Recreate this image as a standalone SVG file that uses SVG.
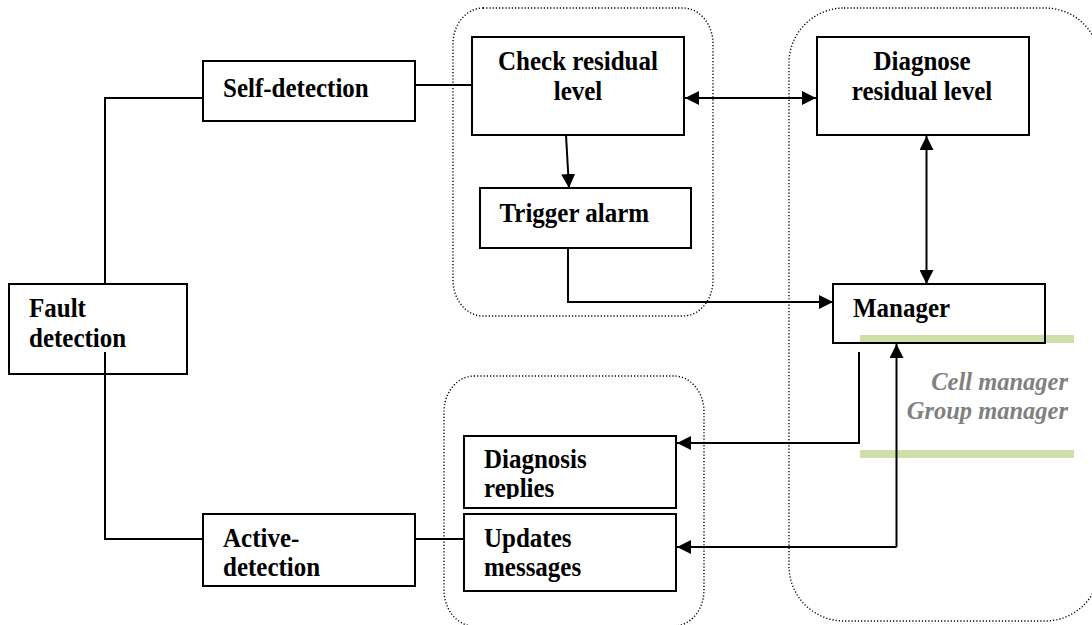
<svg xmlns="http://www.w3.org/2000/svg" width="1092" height="625" viewBox="0 0 1092 625">
<style>
.box{fill:#fff;stroke:#000;stroke-width:2}
.grp{fill:none;stroke:#000;stroke-width:1.4;stroke-dasharray:1.2 2}
.ln{fill:none;stroke:#000;stroke-width:2}
.t{font-family:"Liberation Serif","Times New Roman",serif;font-weight:bold;font-size:25px;fill:#000}
.c{text-anchor:middle}
.g{font-family:"Liberation Serif","Times New Roman",serif;font-weight:bold;font-style:italic;font-size:24.5px;fill:#808080;text-anchor:end}
.bar{fill:#cfdfa9}
</style>
<defs>
<marker id="ah" viewBox="0 0 14 14" refX="14" refY="7" markerWidth="14" markerHeight="14" markerUnits="userSpaceOnUse" orient="auto-start-reverse">
<path d="M0,0 L14,7 L0,14 Z" fill="#000"/>
</marker>
<clipPath id="clipDiag"><rect x="465" y="437" width="210" height="62"/></clipPath>
</defs>

<g id="groups">
<rect class="grp" x="453" y="8" width="260" height="308" rx="30" ry="36"/>
<rect class="grp" x="789" y="8" width="311" height="613" rx="55" ry="55"/>
<rect class="grp" x="444" y="376" width="260" height="250" rx="30" ry="36"/>
</g>

<g id="bars">
<rect class="bar" x="860" y="335" width="214" height="8"/>
<rect class="bar" x="860" y="450" width="214" height="8"/>
</g>

<g id="connectors">
<path class="ln" d="M203,98 H105 V284"/>
<path class="ln" d="M415,85 H472"/>
<path class="ln" d="M105,352 V539 H203"/>
<path class="ln" d="M415,539 H464"/>
<path class="ln" d="M685,98 H816" marker-start="url(#ah)" marker-end="url(#ah)"/>
<path class="ln" d="M566,135 L569,188" marker-end="url(#ah)"/>
<path class="ln" d="M568,248 V302 H833" marker-end="url(#ah)"/>
<path class="ln" d="M926.5,136 V284" marker-start="url(#ah)" marker-end="url(#ah)"/>
<path class="ln" d="M859,352 V443 H677" marker-end="url(#ah)"/>
<path class="ln" d="M896.5,547 V344" marker-end="url(#ah)"/>
<path class="ln" d="M896.5,547 H677" marker-end="url(#ah)"/>
</g>

<g id="fault">
<rect class="box" x="9" y="284" width="178" height="90"/>
<text class="t" transform="translate(29,317) scale(1,1.1)">Fault</text>
<text class="t" transform="translate(29,347) scale(1,1.1)">detection</text>
</g>
<path class="ln" d="M105,352 V374"/>

<g id="self">
<rect class="box" x="203" y="61" width="212" height="60"/>
<text class="t" transform="translate(223,97) scale(1,1.1)">Self-detection</text>
</g>

<g id="active">
<rect class="box" x="203" y="514" width="212" height="72"/>
<text class="t" transform="translate(223,547) scale(1,1.05)">Active-</text>
<text class="t" transform="translate(223,576) scale(1,1.05)">detection</text>
</g>

<g id="check">
<rect class="box" x="472" y="37" width="212" height="98"/>
<text class="t c" transform="translate(578,70) scale(1,1.1)">Check residual</text>
<text class="t c" transform="translate(578,100) scale(1,1.1)">level</text>
</g>

<g id="trigger">
<rect class="box" x="480" y="188" width="211" height="60"/>
<text class="t" transform="translate(499.5,222) scale(1,1.1)">Trigger alarm</text>
</g>

<g id="diagnose">
<rect class="box" x="817" y="37" width="212" height="98"/>
<text class="t c" transform="translate(922,70) scale(1,1.1)">Diagnose</text>
<text class="t c" transform="translate(922,100) scale(1,1.1)">residual level</text>
</g>

<g id="manager">
<rect class="box" x="833" y="284" width="212" height="59" style="fill:none"/>
<text class="t" transform="translate(853,317) scale(1,1.1)">Manager</text>
</g>

<g id="labels">
<text class="g" transform="translate(1068,390) scale(1,1.05)">Cell manager</text>
<text class="g" transform="translate(1068,419) scale(1,1.05)">Group manager</text>
</g>

<g id="diagnosis">
<rect class="box" x="464" y="436" width="212" height="72"/>
<g clip-path="url(#clipDiag)">
<text class="t" transform="translate(484,468) scale(1,1.1)">Diagnosis</text>
<text class="t" transform="translate(484,497) scale(1,1.1)">replies</text>
</g>
</g>

<g id="updates">
<rect class="box" x="464" y="514" width="212" height="77"/>
<text class="t" transform="translate(484,547) scale(1,1.05)">Updates</text>
<text class="t" transform="translate(484,576) scale(1,1.05)">messages</text>
</g>
</svg>
